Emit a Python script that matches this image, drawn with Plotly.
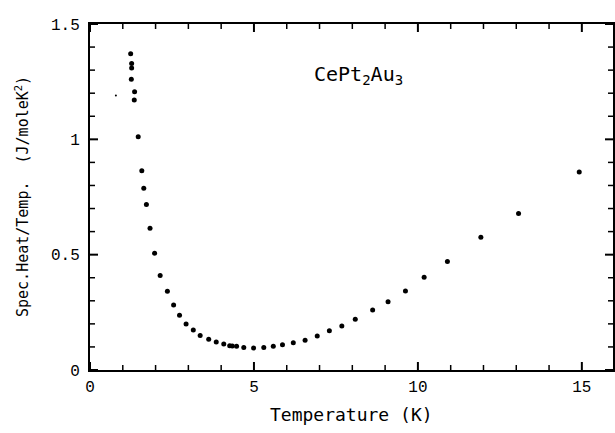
import plotly.graph_objects as go

# Data (Temperature in K, C/T in J/mole K^2)
temperature = [1.24, 1.27, 1.27, 1.26, 1.36, 1.35, 1.47, 1.58, 1.64, 1.72, 1.83,
               1.97, 2.14, 2.36, 2.55, 2.73, 2.93, 3.15, 3.36, 3.62, 3.85, 4.08,
               4.26, 4.34, 4.47, 4.69, 4.99, 5.30, 5.59, 5.87, 6.20, 6.56, 6.93,
               7.30, 7.68, 8.09, 8.62, 9.09, 9.62, 10.19, 10.90, 11.92, 13.07, 14.92]
spec_heat_over_t = [1.371, 1.329, 1.309, 1.261, 1.206, 1.170, 1.011, 0.864, 0.788, 0.717, 0.614,
                    0.506, 0.410, 0.341, 0.282, 0.237, 0.199, 0.173, 0.150, 0.133, 0.121, 0.113,
                    0.105, 0.104, 0.103, 0.098, 0.095, 0.098, 0.103, 0.110, 0.118, 0.129, 0.147,
                    0.170, 0.191, 0.220, 0.260, 0.296, 0.342, 0.402, 0.470, 0.575, 0.678, 0.858]
stray_x = [0.79]
stray_y = [1.19]

x_major = [0, 5, 10, 15]
x_minor = [i for i in range(0, 16) if i % 5 != 0]
y_major = [0, 0.5, 1.0, 1.5]
y_minor = [i / 10 for i in range(0, 16) if i % 5 != 0]

x_title = "Temperature (K)"
y_title = "Spec.Heat/Temp.  (J/moleK<sup>2</sup>)"
label = "CePt<sub>2</sub>Au<sub>3</sub>"

mono = "DejaVu Sans Mono"
tickfont = dict(family="Liberation Mono", size=16, color="black")

fig = go.Figure()
fig.add_trace(go.Scatter(x=temperature, y=spec_heat_over_t, mode="markers",
                         marker=dict(color="black", size=5), showlegend=False))
fig.add_trace(go.Scatter(x=stray_x, y=stray_y, mode="markers",
                         marker=dict(color="black", size=2), showlegend=False))

# inside tick marks on all four sides (axis decoration, sizes in pixels)
shapes = []
for vals, ln, w in ((x_major, 8, 2), (x_minor, 5, 1.5)):
    for v in vals:
        for anchor, sign in ((0, 1), (1, -1)):
            shapes.append(dict(type="line", xref="x", yref="paper", ysizemode="pixel",
                               yanchor=anchor, x0=v, x1=v, y0=0, y1=sign * ln,
                               line=dict(color="black", width=w)))
for vals, ln, w in ((y_major, 8, 2), (y_minor, 5, 1.5)):
    for v in vals:
        for anchor, sign in ((0, 1), (1, -1)):
            shapes.append(dict(type="line", xref="paper", yref="y", xsizemode="pixel",
                               xanchor=anchor, y0=v, y1=v, x0=0, x1=sign * ln,
                               line=dict(color="black", width=w)))

fig.update_layout(
    width=615, height=433,
    margin=dict(l=90, r=2, t=24, b=63),
    paper_bgcolor="white", plot_bgcolor="white",
    font=dict(family=mono, color="black", size=14),
    shapes=shapes,
    annotations=[
        dict(x=8.2, y=1.28, xref="x", yref="y", text=label, showarrow=False,
             font=dict(family=mono, size=20, color="black")),
        dict(x=0.5, y=-0.128, xref="paper", yref="paper", text=x_title, showarrow=False,
             xanchor="center", yanchor="middle",
             font=dict(family=mono, size=18, color="black")),
        dict(x=-0.13, y=0.5, xref="paper", yref="paper", text=y_title, showarrow=False,
             xanchor="center", yanchor="middle", textangle=-90,
             font=dict(family=mono, size=15, color="black")),
    ],
)
common = dict(showgrid=False, zeroline=False, automargin=False,
              showline=True, linecolor="black", linewidth=2, mirror=True,
              ticks="", tickfont=tickfont)
fig.update_xaxes(range=[0, 15.95], tickmode="array", tickvals=x_major,
                 ticktext=["0", "5", "10", "15"], ticklabelstandoff=1, **common)
fig.update_yaxes(range=[0, 1.5], tickmode="array", tickvals=y_major,
                 ticktext=["0", "0.5", "1", "1.5"], ticklabelstandoff=5, **common)

fig.write_html("out.html", config={"displayModeBar": False, "staticPlot": True},
               post_script="document.body.style.margin='0';document.body.style.overflow='hidden';")
